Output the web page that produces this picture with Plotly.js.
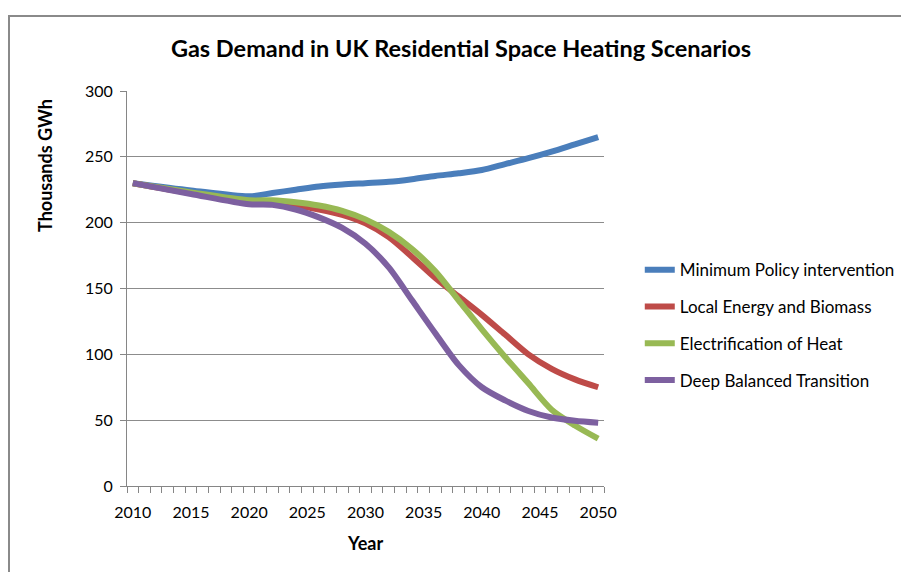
<!DOCTYPE html>
<html>
<head>
<meta charset="utf-8">
<script src="https://cdn.plot.ly/plotly-3.0.1.min.js"></script>
<style>
  html, body { margin: 0; padding: 0; background: #fff; }
  #wrap { position: relative; width: 901px; height: 572px; overflow: hidden; }
  #chart { position: absolute; left: 0; top: 0; width: 901px; height: 572px; }
  #frame { position: absolute; left: 8px; top: 15px; width: 900px; height: 560px;
           border-top: 2px solid #8a8a8a; border-left: 2px solid #8a8a8a; pointer-events: none; }
</style>
</head>
<body>
<div id="wrap">
  <div id="chart"></div>
  <div id="frame"></div>
</div>
<script>
const years = [2010, 2015, 2020, 2022, 2024, 2026, 2028, 2030, 2032, 2034, 2036, 2038, 2040, 2042, 2044, 2046, 2048, 2050];

const minimumPolicy   = [230, 224.5, 220, 222.5, 225, 227.5, 229, 230, 231, 233, 235.5, 237.5, 240, 244.5, 249, 254, 259.5, 265];
const localEnergy     = [230, 222.5, 216, 215, 213, 210, 206, 199.5, 189, 174, 158, 144, 130, 115, 100, 89, 81, 75];
const electrification = [230, 223, 217, 217, 215.5, 213, 209, 202.5, 193, 180, 163, 141, 119, 98, 78, 58, 46, 36];
const deepBalanced    = [230, 221.8, 214, 213.5, 210, 204, 196, 184, 166, 141, 116, 92, 75, 65, 57, 52, 49.5, 48];

const seriesNames = ["Minimum Policy intervention", "Local Energy and Biomass", "Electrification of Heat", "Deep Balanced Transition"];
const seriesColors = ["#4A7EBB", "#BE4B48", "#98B954", "#7D60A0"];
const seriesData = [minimumPolicy, localEnergy, electrification, deepBalanced];

const xTickVals = [2010, 2015, 2020, 2025, 2030, 2035, 2040, 2045, 2050];
const yTickVals = [0, 50, 100, 150, 200, 250, 300];

const chartTitle = "Gas Demand in UK Residential Space Heating Scenarios";
const xTitle = "Year";
const yTitle = "Thousands GWh";

const FONT = "Lato, 'Open Sans', sans-serif";

const traces = seriesData.map((vals, i) => ({
  x: years,
  y: vals,
  type: "scatter",
  mode: "lines",
  name: seriesNames[i],
  legendgroup: "g" + i,
  line: { color: seriesColors[i], width: 6, shape: "spline", smoothing: 0.8 },
  hoverinfo: "x+y+name"
}));

const layout = {
  width: 901,
  height: 572,
  margin: { l: 127, r: 297, t: 91, b: 86, autoexpand: false },
  paper_bgcolor: "rgba(0,0,0,0)",
  plot_bgcolor: "#ffffff",
  font: { family: FONT, size: 16, color: "#000" },
  title: {
    text: "<b>" + chartTitle + "</b>",
    font: { family: FONT, size: 23.5, color: "#000" },
    xref: "container", x: 461 / 901, xanchor: "center",
    yref: "container", y: 1 - 49 / 572, yanchor: "middle"
  },
  showlegend: true,
  legend: {
    x: 1.075, xanchor: "left",
    y: 0.592, yanchor: "top",
    traceorder: "grouped",
    tracegroupgap: 11.7,
    font: { family: FONT, size: 17, color: "#000" },
    bgcolor: "rgba(0,0,0,0)"
  },
  xaxis: {
    range: [2009.5, 2050.5],
    tickmode: "array",
    tickvals: xTickVals,
    ticktext: xTickVals.map(String),
    ticks: "",
    ticklabelstandoff: 12,
    showgrid: false,
    zeroline: false,
    showline: true,
    linecolor: "#868686",
    linewidth: 1,
    tickfont: { family: FONT, size: 16, color: "#000" },
    minor: { tickmode: "linear", tick0: 2009.5, dtick: 1, ticks: "outside", ticklen: 6, tickcolor: "#868686", tickwidth: 1, showgrid: false },
    fixedrange: true
  },
  yaxis: {
    range: [0, 300],
    tickmode: "array",
    tickvals: yTickVals,
    ticks: "outside",
    ticklen: 6,
    tickcolor: "#868686",
    ticklabelstandoff: 4,
    showgrid: true,
    gridcolor: "#8c8c8c",
    gridwidth: 1,
    zeroline: false,
    showline: true,
    linecolor: "#868686",
    linewidth: 1,
    tickfont: { family: FONT, size: 16, color: "#000" },
    fixedrange: true
  },
  annotations: [
    {
      text: "<b>" + yTitle + "</b>",
      xref: "paper", yref: "paper",
      x: (45 - 127) / 477, y: 1 - (166 - 91) / 395,
      xanchor: "center", yanchor: "middle",
      textangle: -90, showarrow: false,
      font: { family: FONT, size: 18, color: "#000" }
    },
    {
      text: "<b>" + xTitle + "</b>",
      xref: "paper", yref: "paper",
      x: (365 - 127) / 477, y: -(543 - 486) / 395,
      xanchor: "center", yanchor: "middle",
      showarrow: false,
      font: { family: FONT, size: 18, color: "#000" }
    }
  ]
};

Plotly.newPlot("chart", traces, layout, { displayModeBar: false, staticPlot: true });
</script>
</body>
</html>
